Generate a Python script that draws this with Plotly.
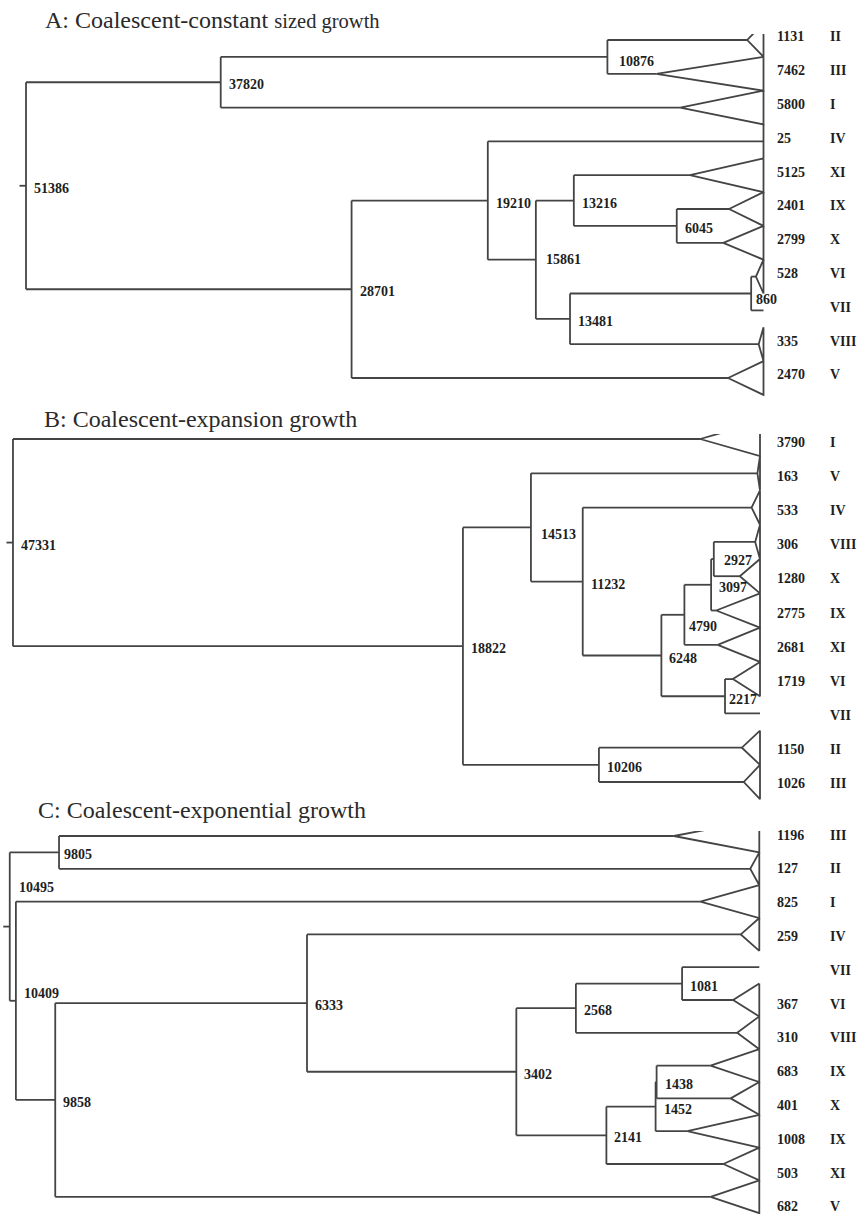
import plotly.graph_objects as go

# ---------------- DATA ----------------
# Panel A: Coalescent-constant sized growth
A_leaf_clades = ["II", "III", "I", "IV", "XI", "IX", "X", "VI", "VII", "VIII", "V"]
A_leaf_ages = [1131, 7462, 5800, 25, 5125, 2401, 2799, 528, None, 335, 2470]
A_children = {
    51386: ("n37820", "n28701"),
    37820: ("n10876", "l2"),
    10876: ("l0", "l1"),
    28701: ("n19210", "l10"),
    19210: ("l3", "n15861"),
    15861: ("n13216", "n13481"),
    13216: ("l4", "n6045"),
    6045: ("l5", "l6"),
    13481: ("n860", "l9"),
    860: ("l7", "l8"),
}
A_root = 51386

# Panel B: Coalescent-expansion growth
B_leaf_clades = ["I", "V", "IV", "VIII", "X", "IX", "XI", "VI", "VII", "II", "III"]
B_leaf_ages = [3790, 163, 533, 306, 1280, 2775, 2681, 1719, None, 1150, 1026]
B_children = {
    47331: ("l0", "n18822"),
    18822: ("n14513", "n10206"),
    14513: ("l1", "n11232"),
    11232: ("l2", "n6248"),
    6248: ("n4790", "n2217"),
    4790: ("n3097", "l6"),
    3097: ("n2927", "l5"),
    2927: ("l3", "l4"),
    2217: ("l7", "l8"),
    10206: ("l9", "l10"),
}
B_root = 47331

# Panel C: Coalescent-exponential growth
C_leaf_clades = ["III", "II", "I", "IV", "VII", "VI", "VIII", "IX", "X", "IX", "XI", "V"]
C_leaf_ages = [1196, 127, 825, 259, None, 367, 310, 683, 401, 1008, 503, 682]
C_children = {
    10495: ("n9805", "n10409"),
    9805: ("l0", "l1"),
    10409: ("l2", "n9858"),
    9858: ("n6333", "l11"),
    6333: ("l3", "n3402"),
    3402: ("n2568", "n2141"),
    2568: ("n1081", "l6"),
    1081: ("l4", "l5"),
    2141: ("n1452", "l10"),
    1452: ("n1438", "l9"),
    1438: ("l7", "l8"),
}
C_root = 10495

titles = [
    "A: Coalescent-constant <span style='font-size:20.5px'>sized growth</span>",
    "B: Coalescent-expansion growth",
    "C: Coalescent-exponential growth",
]

# ---------------- STYLE / LAYOUT ----------------
W, H = 865, 1214
LINE = dict(color="#444444", width=1.8)
FONT_LAB = dict(family="Liberation Serif, Times New Roman, serif", size=14, color="#1e1e1e")
FONT_TITLE = dict(family="Liberation Serif, Times New Roman, serif", size=24, color="#2a2a2a")

panels = [
    dict(clades=A_leaf_clades, ages=A_leaf_ages, children=A_children, root=A_root,
         L=763.5, k=0.014352, y0=40.0, s=33.8, top=34, bottom=400,
         lab_y0=37.0, lab_s=33.8, title_x=43, title_y=19.5,
         offsets={10876: (11, 4), 860: (4, 6), 15861: (9, -1)}),
    dict(clades=B_leaf_clades, ages=B_leaf_ages, children=B_children, root=B_root,
         L=760.0, k=0.015783, y0=439.0, s=34.3, top=434, bottom=800,
         lab_y0=442.5, lab_s=34.1, title_x=42, title_y=418.5,
         offsets={4790: (4, 11), 14513: (9, 7), 2217: (3, 3), 2927: (9, 1)}),
    dict(clades=C_leaf_clades, ages=C_leaf_ages, children=C_children, root=C_root,
         L=759.3, k=0.07142, y0=836.0, s=32.8, top=831, bottom=1214,
         lab_y0=835.0, lab_s=33.8, title_x=36, title_y=809.5,
         offsets={10495: (8, -40), 10409: (7, -8), 9805: (4, 2)}),
]

fig = go.Figure()
annotations = []

for pi, P in enumerate(panels):
    sfx = "" if pi == 0 else str(pi + 1)
    xref, yref = "x" + sfx, "y" + sfx
    children, ages = P["children"], P["ages"]

    def age_of(ref):
        if ref[0] == "l":
            a = ages[int(ref[1:])]
            return 0 if a is None else a
        return int(ref[1:])

    ycache = {}

    def y_of(ref):
        if ref[0] == "l":
            return float(int(ref[1:]))
        key = int(ref[1:])
        if key not in ycache:
            c1, c2 = children[key]
            ycache[key] = (y_of(c1) + y_of(c2)) / 2.0
        return ycache[key]

    xs, ys = [], []
    for node, (c1, c2) in children.items():
        yn1, yn2 = y_of(c1), y_of(c2)
        xs += [node, node, None]
        ys += [yn1, yn2, None]
        for c in (c1, c2):
            yc = y_of(c)
            xs += [node, age_of(c), None]
            ys += [yc, yc, None]
    # root stub
    ry = y_of("n%d" % P["root"])
    xs += [P["root"] + 6.5 / P["k"], P["root"], None]
    ys += [ry, ry, None]
    # collapsed-clade triangles
    for i, a in enumerate(ages):
        if a is None:
            continue
        xs += [0, a, 0, 0, None]
        ys += [i - 0.5, i, i + 0.5, i - 0.5, None]

    fig.add_trace(go.Scatter(x=xs, y=ys, mode="lines", line=LINE, hoverinfo="skip",
                             showlegend=False, xaxis=xref, yaxis=yref))

    # node labels
    for node in children:
        dx, dy = P["offsets"].get(node, (7, 2))
        annotations.append(dict(x=node, y=y_of("n%d" % node), xref=xref, yref=yref,
                                text="<b>%d</b>" % node, showarrow=False,
                                xanchor="left", yanchor="middle",
                                xshift=dx - 1, yshift=-dy - 0.5, font=FONT_LAB))
    # leaf labels
    for i, (cl, a) in enumerate(zip(P["clades"], ages)):
        ly = (P["lab_y0"] + P["lab_s"] * i - P["y0"]) / P["s"]
        if a is not None:
            annotations.append(dict(x=0, y=ly, xref=xref, yref=yref, text="<b>%d</b>" % a,
                                    showarrow=False, xanchor="left", yanchor="middle",
                                    xshift=775 - P["L"], font=FONT_LAB))
        annotations.append(dict(x=0, y=ly, xref=xref, yref=yref, text="<b>%s</b>" % cl,
                                showarrow=False, xanchor="left", yanchor="middle",
                                xshift=827.5 - P["L"], font=FONT_LAB))
    # title
    annotations.append(dict(x=P["title_x"] / W, y=1 - P["title_y"] / H, xref="paper", yref="paper",
                            text=titles[pi], showarrow=False, xanchor="left", yanchor="middle",
                            font=FONT_TITLE))

    L, k = P["L"], P["k"]
    xr = [L / k, (L - W) / k]
    yr = [(P["bottom"] - P["y0"]) / P["s"], (P["top"] - P["y0"]) / P["s"]]
    dom = [1 - P["bottom"] / H, 1 - P["top"] / H]
    fig.update_layout(**{
        "xaxis" + sfx: dict(range=xr, domain=[0, 1], visible=False, anchor=yref, fixedrange=True),
        "yaxis" + sfx: dict(range=yr, domain=dom, visible=False, anchor=xref, fixedrange=True),
    })

fig.update_layout(width=W, height=H, margin=dict(l=0, r=0, t=0, b=0),
                  paper_bgcolor="white", plot_bgcolor="white",
                  annotations=annotations, showlegend=False)

fig.write_html("out.html",
               config={"displayModeBar": False},
               post_script="document.body.style.margin='0';document.body.style.padding='0';"
                           "document.body.style.overflow='hidden';")
